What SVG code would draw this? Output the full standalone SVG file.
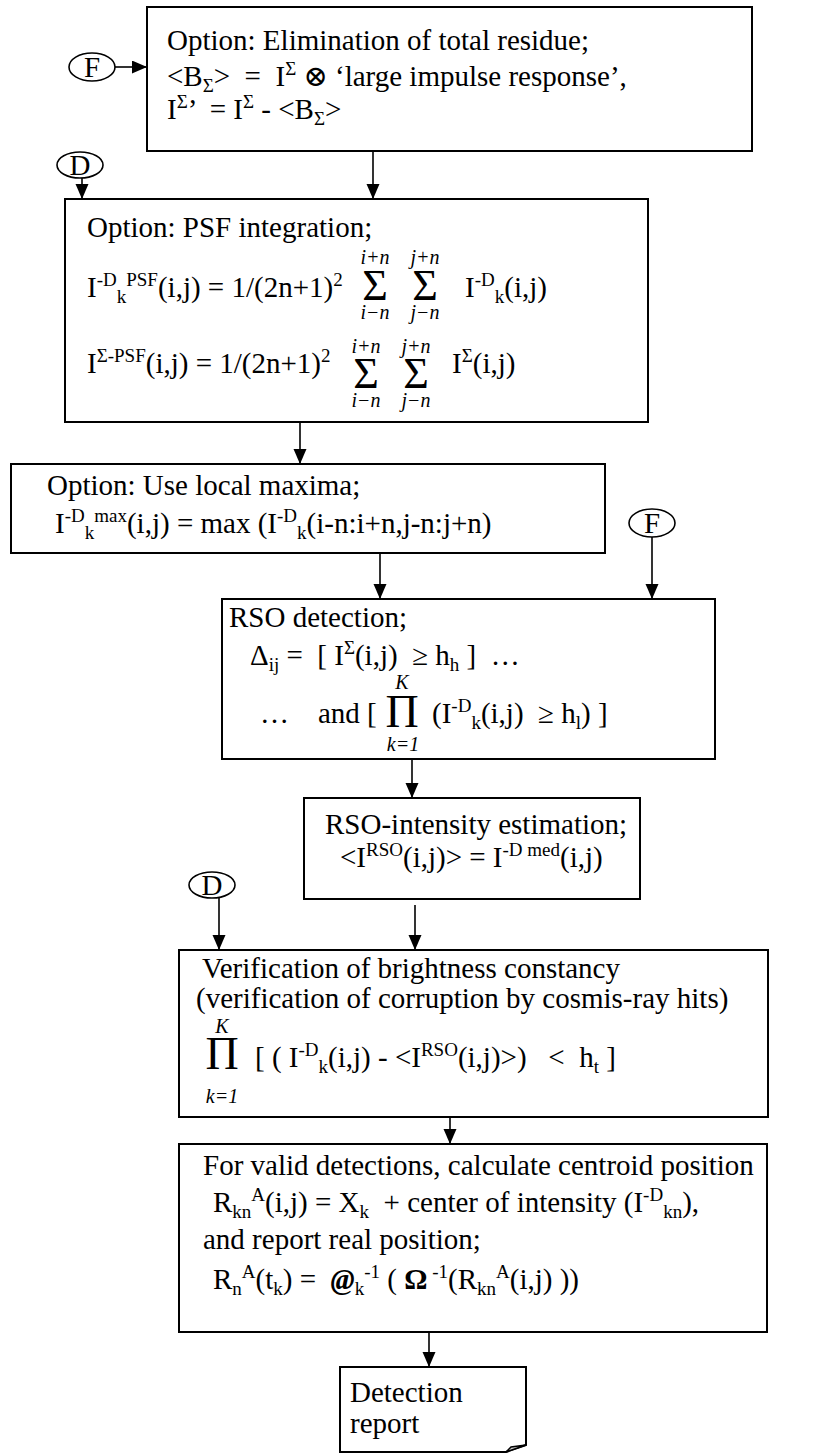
<svg xmlns="http://www.w3.org/2000/svg" width="820" height="1454" viewBox="0 0 820 1454">
<style>
.box{fill:#fff;stroke:#000;stroke-width:2}
.t{font-family:"Liberation Serif","Times New Roman","DejaVu Serif",serif;font-size:29px;fill:#000;white-space:pre}
.s{font-size:19px}
.lim{font-family:"Liberation Serif","Times New Roman",serif;font-style:italic;font-size:20px;fill:#000;text-anchor:middle}
.big{font-family:"Liberation Serif","Times New Roman",serif;fill:#000;text-anchor:middle}
.conn{stroke:#000;stroke-width:1.6;fill:none;marker-end:url(#ah)}
.lbl{fill:#fff;stroke:#000;stroke-width:1.6}
.lt{font-family:"Liberation Serif","Times New Roman",serif;font-size:29px;fill:#000;text-anchor:middle}
</style>
<defs>
<marker id="ah" markerUnits="userSpaceOnUse" markerWidth="16" markerHeight="14" refX="15" refY="6.5" orient="auto">
<path d="M0,0 L15,6.5 L0,13 Z" fill="#000"/>
</marker>
</defs>

<g id="connectors">
<line class="conn" x1="115" y1="67" x2="147" y2="67"/>
<line class="conn" x1="373" y1="152" x2="373" y2="199"/>
<line class="conn" x1="82" y1="178" x2="82" y2="199"/>
<line class="conn" x1="300" y1="419" x2="300" y2="464"/>
<line class="conn" x1="380" y1="553" x2="380" y2="599"/>
<line class="conn" x1="652" y1="537" x2="652" y2="599"/>
<line class="conn" x1="412" y1="759" x2="412" y2="798"/>
<line class="conn" x1="219" y1="898" x2="219" y2="950"/>
<line class="conn" x1="415" y1="905" x2="415" y2="950"/>
<line class="conn" x1="450" y1="1117" x2="450" y2="1144"/>
<line class="conn" x1="429" y1="1332" x2="429" y2="1367"/>
</g>

<g id="c-F1">
<ellipse class="lbl" cx="92" cy="67" rx="23" ry="14"/>
<text class="lt" x="92" y="77">F</text>
</g>
<g id="c-D1">
<ellipse class="lbl" cx="80" cy="165" rx="23" ry="13"/>
<text class="lt" x="80" y="175">D</text>
</g>
<g id="c-F2">
<ellipse class="lbl" cx="652" cy="523" rx="23" ry="14"/>
<text class="lt" x="652" y="533">F</text>
</g>
<g id="c-D2">
<ellipse class="lbl" cx="212" cy="885" rx="23" ry="13"/>
<text class="lt" x="212" y="895">D</text>
</g>

<g id="n-top">
<rect class="box" x="147" y="7" width="605" height="144"/>
<text class="t" x="167" y="50">Option: Elimination of total residue;</text>
<text class="t" x="167" y="86">&lt;B<tspan class="s" dy="6">Σ</tspan><tspan dy="-6">&gt;  =  I</tspan><tspan class="s" dy="-11">Σ</tspan><tspan dy="11"> ⊗ ‘large impulse response’,</tspan></text>
<text class="t" x="167" y="119">I<tspan class="s" dy="-11">Σ</tspan><tspan dy="11">’  = I</tspan><tspan class="s" dy="-11">Σ</tspan><tspan dy="11"> - &lt;B</tspan><tspan class="s" dy="6">Σ</tspan><tspan dy="-6">&gt;</tspan></text>
</g>

<g id="n-psf">
<rect class="box" x="65" y="199" width="583" height="223"/>
<text class="t" x="87" y="237">Option: PSF integration;</text>
<text class="t" x="87" y="297">I<tspan class="s" dy="-11">-D</tspan><tspan class="s" dy="17">k</tspan><tspan class="s" dy="-17">PSF</tspan><tspan dy="11">(i,j) = 1/(2n+1)</tspan><tspan class="s" dy="-11">2</tspan></text>
<text class="big" x="375" y="300" font-size="44">Σ</text>
<text class="big" x="425" y="300" font-size="44">Σ</text>
<text class="lim" x="375" y="264">i+n</text>
<text class="lim" x="425" y="264">j+n</text>
<text class="lim" x="375" y="319">i−n</text>
<text class="lim" x="425" y="319">j−n</text>
<text class="t" x="465" y="297">I<tspan class="s" dy="-11">-D</tspan><tspan class="s" dy="17">k</tspan><tspan dy="-6">(i,j)</tspan></text>
<text class="t" x="87" y="373">I<tspan class="s" dy="-11">Σ-PSF</tspan><tspan dy="11">(i,j) = 1/(2n+1)</tspan><tspan class="s" dy="-11">2</tspan></text>
<text class="big" x="366" y="388" font-size="44">Σ</text>
<text class="big" x="416" y="388" font-size="44">Σ</text>
<text class="lim" x="366" y="353">i+n</text>
<text class="lim" x="416" y="353">j+n</text>
<text class="lim" x="366" y="407">i−n</text>
<text class="lim" x="416" y="407">j−n</text>
<text class="t" x="452" y="373">I<tspan class="s" dy="-11">Σ</tspan><tspan dy="11">(i,j)</tspan></text>
</g>

<g id="n-locmax">
<rect class="box" x="11" y="464" width="594" height="89"/>
<text class="t" x="47" y="495">Option: Use local maxima;</text>
<text class="t" x="55" y="533">I<tspan class="s" dy="-11">-D</tspan><tspan class="s" dy="17">k</tspan><tspan class="s" dy="-17">max</tspan><tspan dy="11">(i,j) = max (I</tspan><tspan class="s" dy="-11">-D</tspan><tspan class="s" dy="17">k</tspan><tspan dy="-6">(i-n:i+n,j-n:j+n)</tspan></text>
</g>

<g id="n-rso">
<rect class="box" x="222" y="599" width="493" height="160"/>
<text class="t" x="229" y="627">RSO detection;</text>
<text class="t" x="250" y="665">Δ<tspan class="s" dy="6">ij</tspan><tspan dy="-6"> =  [ I</tspan><tspan class="s" dy="-11">Σ</tspan><tspan dy="11">(i,j)  ≥ h</tspan><tspan class="s" dy="6">h</tspan><tspan dy="-6"> ]  …</tspan></text>
<text class="lim" x="402" y="689">K</text>
<text class="t" x="260" y="723">…    and [ </text>
<text class="big" x="402" y="727" font-size="46">Π</text>
<text class="t" x="432" y="723">(I<tspan class="s" dy="-11">-D</tspan><tspan class="s" dy="17">k</tspan><tspan dy="-6">(i,j)  ≥ h</tspan><tspan class="s" dy="6">l</tspan><tspan dy="-6">) ]</tspan></text>
<text class="lim" x="403" y="751">k=1</text>
</g>

<g id="n-int">
<rect class="box" x="304" y="798" width="336" height="101"/>
<text class="t" x="325" y="834">RSO-intensity estimation;</text>
<text class="t" x="340" y="867">&lt;I<tspan class="s" dy="-11">RSO</tspan><tspan dy="11">(i,j)&gt; = I</tspan><tspan class="s" dy="-11">-D med</tspan><tspan dy="11">(i,j)</tspan></text>
</g>

<g id="n-verif">
<rect class="box" x="179" y="950" width="589" height="167"/>
<text class="t" x="202" y="978">Verification of brightness constancy</text>
<text class="t" x="196" y="1008">(verification of corruption by cosmis-ray hits)</text>
<text class="lim" x="222" y="1033">K</text>
<text class="big" x="222" y="1069" font-size="46">Π</text>
<text class="lim" x="222" y="1103">k=1</text>
<text class="t" x="255" y="1067">[ ( I<tspan class="s" dy="-11">-D</tspan><tspan class="s" dy="17">k</tspan><tspan dy="-6">(i,j) - &lt;I</tspan><tspan class="s" dy="-11">RSO</tspan><tspan dy="11">(i,j)&gt;)   &lt;  h</tspan><tspan class="s" dy="6">t</tspan><tspan dy="-6"> ]</tspan></text>
</g>

<g id="n-final">
<rect class="box" x="179" y="1144" width="588" height="188"/>
<text class="t" x="203" y="1175">For valid detections, calculate centroid position</text>
<text class="t" x="213" y="1212">R<tspan class="s" dy="6">kn</tspan><tspan class="s" dy="-17">A</tspan><tspan dy="11">(i,j) = X</tspan><tspan class="s" dy="6">k</tspan><tspan dy="-6">  + center of intensity (I</tspan><tspan class="s" dy="-11">-D</tspan><tspan class="s" dy="17">kn</tspan><tspan dy="-6">),</tspan></text>
<text class="t" x="203" y="1249">and report real position;</text>
<text class="t" x="213" y="1289">R<tspan class="s" dy="6">n</tspan><tspan class="s" dy="-17">A</tspan><tspan dy="11">(t</tspan><tspan class="s" dy="6">k</tspan><tspan dy="-6">) =  </tspan><tspan font-weight="bold" font-style="italic">@</tspan><tspan class="s" dy="6">k</tspan><tspan class="s" dy="-17">-1</tspan><tspan dy="11"> ( </tspan><tspan font-weight="bold">Ω</tspan><tspan class="s" dy="-11"> -1</tspan><tspan dy="11">(R</tspan><tspan class="s" dy="6">kn</tspan><tspan class="s" dy="-17">A</tspan><tspan dy="11">(i,j) ))</tspan></text>
</g>

<g id="n-report">
<path class="box" d="M340,1367 H526 V1445 L506,1452 H340 Z"/>
<path d="M526,1445 L511,1447 L506,1452 Z" fill="#ccc" stroke="#000" stroke-width="1.5"/>
<text class="t" x="350" y="1402">Detection</text>
<text class="t" x="350" y="1433">report</text>
</g>
</svg>
